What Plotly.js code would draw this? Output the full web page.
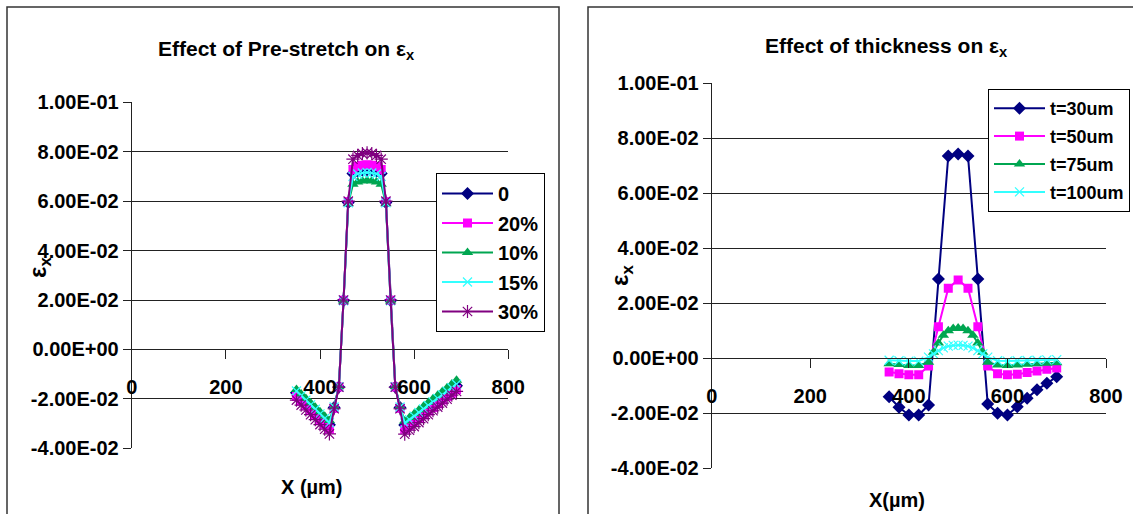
<!DOCTYPE html>
<html>
<head>
<meta charset="utf-8">
<script src="https://cdn.plot.ly/plotly-3.0.1.min.js"></script>
<style>html,body{margin:0;padding:0;background:#fff;}#chart{width:1133px;height:514px;}</style>
</head>
<body>
<div id="chart"></div>
<script>
// ---------- Left chart: Effect of Pre-stretch ----------
const xLeft = [350,360,370,380,390,400,410,420,430,440,450,460,470,480,490,500,510,520,530,540,550,560,570,580,590,600,610,620,630,640,650,660,670,680,690];
const pre0  = [-0.0175,-0.0194,-0.0212,-0.0231,-0.0250,-0.0268,-0.0287,-0.0305,-0.0235,-0.0152,0.0198,0.0595,0.0712,0.0722,0.0726,0.0727,0.0726,0.0722,0.0712,0.0595,0.0198,-0.0152,-0.0235,-0.0306,-0.0292,-0.0277,-0.0263,-0.0248,-0.0234,-0.0219,-0.0205,-0.0190,-0.0176,-0.0161,-0.0147];
const pre20 = [-0.0190,-0.0209,-0.0228,-0.0247,-0.0266,-0.0285,-0.0304,-0.0322,-0.0238,-0.0152,0.0199,0.0598,0.0728,0.0740,0.0745,0.0747,0.0745,0.0740,0.0728,0.0598,0.0199,-0.0152,-0.0238,-0.0323,-0.0309,-0.0294,-0.0279,-0.0264,-0.0249,-0.0235,-0.0220,-0.0205,-0.0190,-0.0176,-0.0162];
const pre10 = [-0.0162,-0.0180,-0.0198,-0.0216,-0.0234,-0.0252,-0.0270,-0.0288,-0.0232,-0.0150,0.0196,0.0590,0.0668,0.0678,0.0682,0.0684,0.0682,0.0678,0.0668,0.0590,0.0196,-0.0150,-0.0232,-0.0290,-0.0275,-0.0260,-0.0245,-0.0230,-0.0215,-0.0200,-0.0185,-0.0170,-0.0155,-0.0140,-0.0125];
const pre15 = [-0.0168,-0.0187,-0.0205,-0.0224,-0.0242,-0.0261,-0.0279,-0.0297,-0.0233,-0.0151,0.0197,0.0593,0.0700,0.0710,0.0714,0.0716,0.0714,0.0710,0.0700,0.0593,0.0197,-0.0151,-0.0233,-0.0298,-0.0284,-0.0270,-0.0255,-0.0241,-0.0227,-0.0212,-0.0198,-0.0184,-0.0169,-0.0155,-0.0141];
const pre30 = [-0.0205,-0.0225,-0.0245,-0.0264,-0.0284,-0.0304,-0.0323,-0.0342,-0.0240,-0.0153,0.0200,0.0600,0.0770,0.0785,0.0792,0.0795,0.0792,0.0785,0.0770,0.0600,0.0200,-0.0153,-0.0240,-0.0343,-0.0327,-0.0312,-0.0296,-0.0280,-0.0264,-0.0248,-0.0233,-0.0217,-0.0201,-0.0185,-0.0170];
const preNames = ["0","20%","10%","15%","30%"];

// ---------- Right chart: Effect of thickness ----------
const xRight = [360,380,400,420,440,460,480,500,520,540,560,580,600,620,640,660,680,700];
const t30  = [-0.0140,-0.0178,-0.0206,-0.0206,-0.0170,0.0288,0.0736,0.0743,0.0736,0.0288,-0.0166,-0.0200,-0.0206,-0.0176,-0.0145,-0.0114,-0.0091,-0.0067];
const t50  = [-0.0050,-0.0056,-0.0060,-0.0060,-0.0028,0.0115,0.0255,0.0285,0.0255,0.0115,-0.0028,-0.0056,-0.0060,-0.0058,-0.0052,-0.0046,-0.0040,-0.0035];
const xRightFine = [360,380,400,420,440,450,460,470,480,490,500,510,520,530,540,550,560,580,600,620,640,660,680,700];
const t75  = [-0.0020,-0.0023,-0.0026,-0.0026,-0.0014,0.0022,0.0056,0.0084,0.0100,0.0108,0.0110,0.0108,0.0100,0.0084,0.0056,0.0022,-0.0014,-0.0024,-0.0026,-0.0024,-0.0022,-0.0020,-0.0018,-0.0016];
const t100 = [-0.0007,-0.0009,-0.0010,-0.0010,0.0004,0.0016,0.0028,0.0038,0.0044,0.0047,0.0048,0.0047,0.0044,0.0038,0.0028,0.0016,0.0004,-0.0009,-0.0010,-0.0009,-0.0008,-0.0007,-0.0006,-0.0005];
const thickNames = ["t=30um","t=50um","t=75um","t=100um"];

// ---------- Axis ticks ----------
const yTickVals = [-0.04,-0.02,0,0.02,0.04,0.06,0.08,0.1];
const yTickText = ["-4.00E-02","-2.00E-02","0.00E+00","2.00E-02","4.00E-02","6.00E-02","8.00E-02","1.00E-01"];
const xTickVals = [0,200,400,600,800];
const xTickText = ["0","200","400","600","800"];

const FONT = "Arial, 'Liberation Sans', sans-serif";
const styles = {
  navy:   {color:"#000080", symbol:"diamond", size:10},
  magenta:{color:"#FF00FF", symbol:"square", size:9},
  green:  {color:"#00A651", symbol:"triangle-up", size:10},
  cyan:   {color:"#33FFFF", symbol:"x-thin-open", size:9},
  purple: {color:"#800080", symbol:"asterisk-open", size:11}
};
function tr(x, y, name, st, xa, ya, leg) {
  const open = st.symbol.indexOf("open") >= 0;
  return {
    type:"scatter", mode:"lines+markers", x:x, y:y, name:name,
    xaxis:xa, yaxis:ya, legend:leg, legendgroup:leg + name,
    line:{color:st.color, width:2},
    marker:{color:st.color, symbol:st.symbol, size:st.size,
            line:{color:st.color, width: open ? 1.2 : 0}}
  };
}
const data = [
  tr(xLeft, pre0,  preNames[0], styles.navy,    "x","y","legend"),
  tr(xLeft, pre20, preNames[1], styles.magenta, "x","y","legend"),
  tr(xLeft, pre10, preNames[2], styles.green,   "x","y","legend"),
  tr(xLeft, pre15, preNames[3], styles.cyan,    "x","y","legend"),
  tr(xLeft, pre30, preNames[4], styles.purple,  "x","y","legend"),
  tr(xRight, t30,  thickNames[0], styles.navy,    "x2","y2","legend2"),
  tr(xRight, t50,  thickNames[1], styles.magenta, "x2","y2","legend2"),
  tr(xRightFine, t75,  thickNames[2], styles.green,   "x2","y2","legend2"),
  tr(xRightFine, t100, thickNames[3], styles.cyan,    "x2","y2","legend2")
];

const W = 1133, H = 514;
const px = v => v / W;
const py = v => (H - v) / H;
const yRange = [-0.04, 0.1];
const dL = [py(448.3), py(102.3)];
const dR = [py(468.3), py(83.3)];
const zeroPos = d => d[0] + (0 - yRange[0]) / (yRange[1] - yRange[0]) * (d[1] - d[0]);

const tickFont = {family:FONT, size:20, color:"#000", weight:"bold"};
function yax(domain, anchor) {
  return {domain:domain, range:yRange, anchor:anchor, tickvals:yTickVals, ticktext:yTickText,
    showgrid:true, gridcolor:"#222", gridwidth:1, zeroline:false,
    showline:true, linecolor:"#222", linewidth:1, ticks:"outside", ticklen:8, tickcolor:"#222",
    tickfont:tickFont, fixedrange:true};
}
function xax(domain, pos) {
  return {domain:domain, range:[0,800], anchor:"free", position:pos, tickvals:xTickVals, ticktext:xTickText,
    showgrid:false, zeroline:false, showline:true, linecolor:"#222", linewidth:1,
    ticks:"outside", ticklen:9, tickcolor:"#222", ticklabelstandoff:11,
    tickfont:tickFont, fixedrange:true};
}

const layout = {
  width:W, height:H, margin:{l:0,r:0,t:0,b:0, autoexpand:false},
  paper_bgcolor:"#fff", plot_bgcolor:"rgba(0,0,0,0)",
  font:{family:FONT, color:"#000"},
  xaxis: xax([px(131.7), px(508.3)], zeroPos(dL)),
  yaxis: yax(dL, "x"),
  xaxis2: xax([px(711.7), px(1106)], zeroPos(dR)),
  yaxis2: yax(dR, "x2"),
  legend:{x:px(436), y:py(173), xanchor:"left", yanchor:"top", bgcolor:"#fff",
    bordercolor:"#000", borderwidth:1, font:{family:FONT, size:20, weight:"bold", color:"#000"},
    tracegroupgap:0.5, itemwidth:51},
  legend2:{x:px(988), y:py(89), xanchor:"left", yanchor:"top", bgcolor:"#fff",
    bordercolor:"#000", borderwidth:1, font:{family:FONT, size:18, weight:"bold", color:"#000"},
    tracegroupgap:1.5, itemwidth:51},
  showlegend:true,
  shapes:[
    {type:"rect", xref:"paper", yref:"paper", x0:px(7), x1:px(559), y0:py(530), y1:py(7), line:{color:"#333", width:1.5}},
    {type:"rect", xref:"paper", yref:"paper", x0:px(588), x1:px(1150), y0:py(530), y1:py(7), line:{color:"#333", width:1.5}}
  ],
  annotations:[
    {xref:"paper", yref:"paper", x:px(286), y:py(50), text:"Effect of Pre-stretch on ε<sub>x</sub>", showarrow:false,
     font:{family:FONT, size:21, weight:"bold"}, xanchor:"center", yanchor:"middle"},
    {xref:"paper", yref:"paper", x:px(886), y:py(47), text:"Effect of thickness on ε<sub>x</sub>", showarrow:false,
     font:{family:FONT, size:21, weight:"bold"}, xanchor:"center", yanchor:"middle"},
    {xref:"paper", yref:"paper", x:px(40), y:py(268), text:"ε<sub>x</sub>", textangle:-90, showarrow:false,
     font:{family:FONT, size:24, weight:"bold"}, xanchor:"center", yanchor:"middle"},
    {xref:"paper", yref:"paper", x:px(621), y:py(276), text:"ε<sub>x</sub>", textangle:-90, showarrow:false,
     font:{family:FONT, size:24, weight:"bold"}, xanchor:"center", yanchor:"middle"},
    {xref:"paper", yref:"paper", x:px(312), y:py(487), text:"X (µm)", showarrow:false,
     font:{family:FONT, size:20, weight:"bold"}, xanchor:"center", yanchor:"middle"},
    {xref:"paper", yref:"paper", x:px(897), y:py(500), text:"X(µm)", showarrow:false,
     font:{family:FONT, size:20, weight:"bold"}, xanchor:"center", yanchor:"middle"}
  ]
};
Plotly.newPlot("chart", data, layout, {displayModeBar:false, staticPlot:true});
</script>
</body>
</html>
